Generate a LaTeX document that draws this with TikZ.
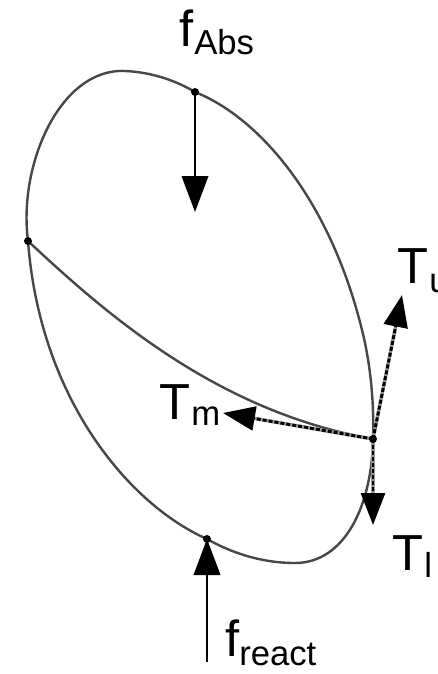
\documentclass[tikz,border=0pt]{standalone}
\usepackage{fontspec}
\setmainfont{Liberation Sans}
\usetikzlibrary{arrows.meta}
\tikzset{
 curve/.style={line width=1.8pt,color=black!72},
 force/.style={line width=1.3pt,color=black,-{Triangle[length=27pt,width=20pt]}},
 tensbase/.style={line width=2.6pt,color=black!40,shorten >=14pt},
 tens/.style={line width=2.2pt,dash pattern=on 3pt off 1.5pt,color=black,-{Triangle[length=24pt,width=18pt]}},
 dot/.style={circle,fill=black,inner sep=0pt,minimum size=8pt*0.75},
 lab/.style={inner sep=0pt,color=black,font=\fontsize{38}{38}\selectfont},
 sub/.style={inner sep=0pt,color=black,font=\fontsize{26}{26}\selectfont}
}
\begin{document}
\begin{tikzpicture}[x=0.75pt,y=-0.75pt]
\useasboundingbox (0,0) rectangle (437,674);
\fill[white] (0,0) rectangle (437,674);
\coordinate (L) at (28,241);
\coordinate (A) at (195,92);
\coordinate (R) at (373,439);
\coordinate (B) at (207,539);
\coordinate (AE) at (195,212);
\coordinate (BS) at (207,662);
\coordinate (TU) at (402,295);
\coordinate (TM) at (223,413);
\coordinate (TL) at (373,525);
\draw[curve] (L) .. controls (18,165) and (60,68) .. (125,71) .. controls (150,72) and (175,80) .. (A)
 .. controls (260,118) and (330,200) .. (362,330) .. controls (372,370) and (374,410) .. (R)
 .. controls (372,505) and (345,563) .. (295,563) .. controls (260,563) and (230,552) .. (B)
 .. controls (130,505) and (40,400) .. (L);
\draw[curve] (L) .. controls (110,318) and (220,412) .. (R);
\draw[force] (A) -- (AE);
\draw[force] (BS) -- (B);
\draw[tensbase] (R) -- (TU);
\draw[tensbase] (R) -- (TM);
\draw[tensbase] (R) -- (TL);
\draw[tens] (R) -- (TU);
\draw[tens] (R) -- (TM);
\draw[tens] (R) -- (TL);
\node[dot] (nL) at (L) {};
\node[dot] (nA) at (A) {};
\node[dot] (nR) at (R) {};
\node[dot] (nB) at (B) {};
\node[lab,anchor=base west] (fabs) at (179,47) {f};
\node[sub,anchor=base west] (fabss) at (194,55) {Abs};
\node[lab,anchor=base west] (tu) at (397,283) {T};
\node[sub,anchor=base west] (tus) at (429,292) {u};
\node[lab,anchor=base west] (tm) at (159,419) {T};
\node[sub,anchor=base west] (tms) at (191,425) {m};
\node[lab,anchor=base west] (tl) at (392,570) {T};
\node[sub,anchor=base west] (tls) at (424,577) {l};
\node[lab,anchor=base west] (fr) at (225,656) {f};
\node[sub,anchor=base west] (frs) at (239,665) {react};
\end{tikzpicture}
\end{document}
